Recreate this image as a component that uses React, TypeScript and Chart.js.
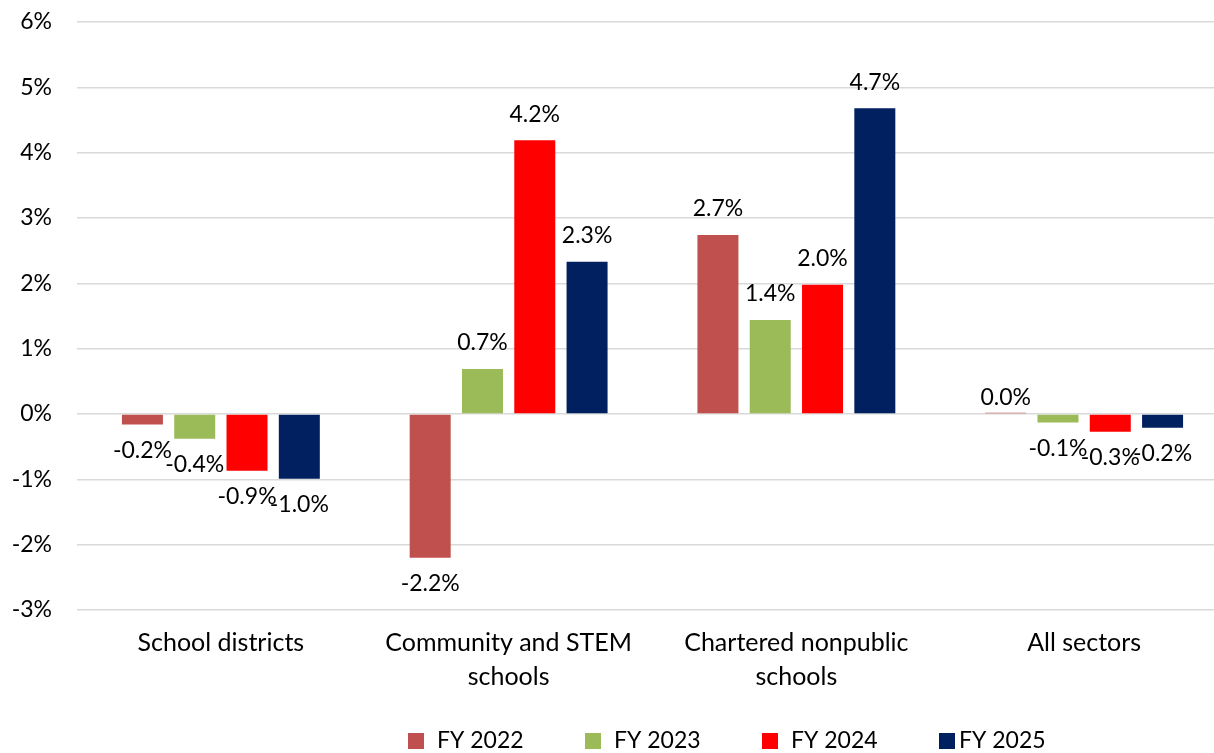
import React, { useEffect, useRef } from "react";
import { Chart, registerables } from "chart.js";

Chart.register(...registerables);

const categories: string[][] = [
  ["School districts"],
  ["Community and STEM", "schools"],
  ["Chartered nonpublic", "schools"],
  ["All sectors"],
];
const seriesNames = ["FY 2022", "FY 2023", "FY 2024", "FY 2025"];
const fy2022 = [-0.16, -2.2, 2.74, 0.02];
const fy2023 = [-0.38, 0.69, 1.44, -0.13];
const fy2024 = [-0.87, 4.19, 1.98, -0.27];
const fy2025 = [-0.99, 2.33, 4.68, -0.21];
const seriesColors = ["#C0504D", "#9BBB59", "#FF0000", "#002060"];
const yMin = -3;
const yMax = 6;
const yStep = 1;

const FONT = "Lato, 'Noto Sans', sans-serif";
const FS = 23;
const FS_CAT = 25;

const dataLabels = {
  id: "dataLabels",
  afterDatasetsDraw(chart: any) {
    const ctx = chart.ctx;
    ctx.save();
    ctx.font = `${FS}px ${FONT}`;
    ctx.fillStyle = "#000";
    ctx.textAlign = "center";
    ctx.textBaseline = "middle";
    chart.data.datasets.forEach((ds: any, i: number) => {
      const meta = chart.getDatasetMeta(i);
      meta.data.forEach((bar: any, j: number) => {
        const v = ds.data[j] as number;
        const txt = v.toFixed(1) + "%";
        const off = Math.abs(v) < 0.05 ? 15 : 26;
        const y = v >= 0 ? bar.y - off : bar.y + off;
        ctx.fillText(txt, bar.x, y);
      });
    });
    ctx.restore();
  },
};

const customLegend = {
  id: "customLegend",
  afterDraw(chart: any) {
    const ctx = chart.ctx;
    ctx.save();
    ctx.font = `${FS}px ${FONT}`;
    ctx.textBaseline = "middle";
    ctx.textAlign = "left";
    const startX = 408;
    const step = 177;
    const cy = 741;
    const box = 16;
    chart.data.datasets.forEach((ds: any, i: number) => {
      const x = startX + i * step;
      ctx.fillStyle = ds.backgroundColor;
      ctx.fillRect(x, cy - box / 2, box, box);
      ctx.fillStyle = "#000";
      ctx.fillText(ds.label, x + (i === 3 ? 20 : 29), cy);
    });
    ctx.restore();
  },
};

export default function App() {
  const ref = useRef<HTMLCanvasElement | null>(null);
  useEffect(() => {
    if (!ref.current) return;
    const series = [fy2022, fy2023, fy2024, fy2025];
    const chart = new Chart(ref.current, {
      type: "bar",
      data: {
        labels: categories,
        datasets: series.map((d, i) => ({
          label: seriesNames[i],
          data: d,
          backgroundColor: seriesColors[i],
          categoryPercentage: 0.727,
          barPercentage: 0.784,
        })),
      },
      options: {
        animation: false,
        responsive: true,
        maintainAspectRatio: false,
        layout: { padding: { top: 22, bottom: 33, left: 0, right: 2 } },
        plugins: {
          legend: { display: false },
          tooltip: { enabled: false },
        },
        scales: {
          x: {
            grid: { display: false, drawTicks: false },
            border: { display: false },
            ticks: {
              color: "#000",
              font: { family: FONT, size: FS_CAT, lineHeight: "34px" } as any,
              padding: 16,
              maxRotation: 0,
              autoSkip: false,
            },
            afterFit(scale: any) {
              scale.height = 110;
            },
          },
          y: {
            min: yMin,
            max: yMax,
            ticks: {
              stepSize: yStep,
              color: "#000",
              font: { family: FONT, size: FS },
              padding: 25,
              callback: (v: any) => `${v}%`,
            },
            grid: { color: "#D9D9D9", lineWidth: 1.5, drawTicks: false },
            border: { display: false },
            afterFit(scale: any) {
              scale.width = 77;
              scale.paddingTop = 14;
              scale.paddingBottom = 14;
            },
          },
        },
      },
      plugins: [dataLabels, customLegend],
    });
    return () => chart.destroy();
  }, []);

  return (
    <div
      style={{
        position: "fixed",
        left: 0,
        top: 0,
        width: 1214,
        height: 753,
        overflow: "hidden",
        background: "#fff",
      }}
    >
      <div style={{ position: "relative", width: 1230, height: 753 }}>
        <canvas ref={ref} />
      </div>
    </div>
  );
}
